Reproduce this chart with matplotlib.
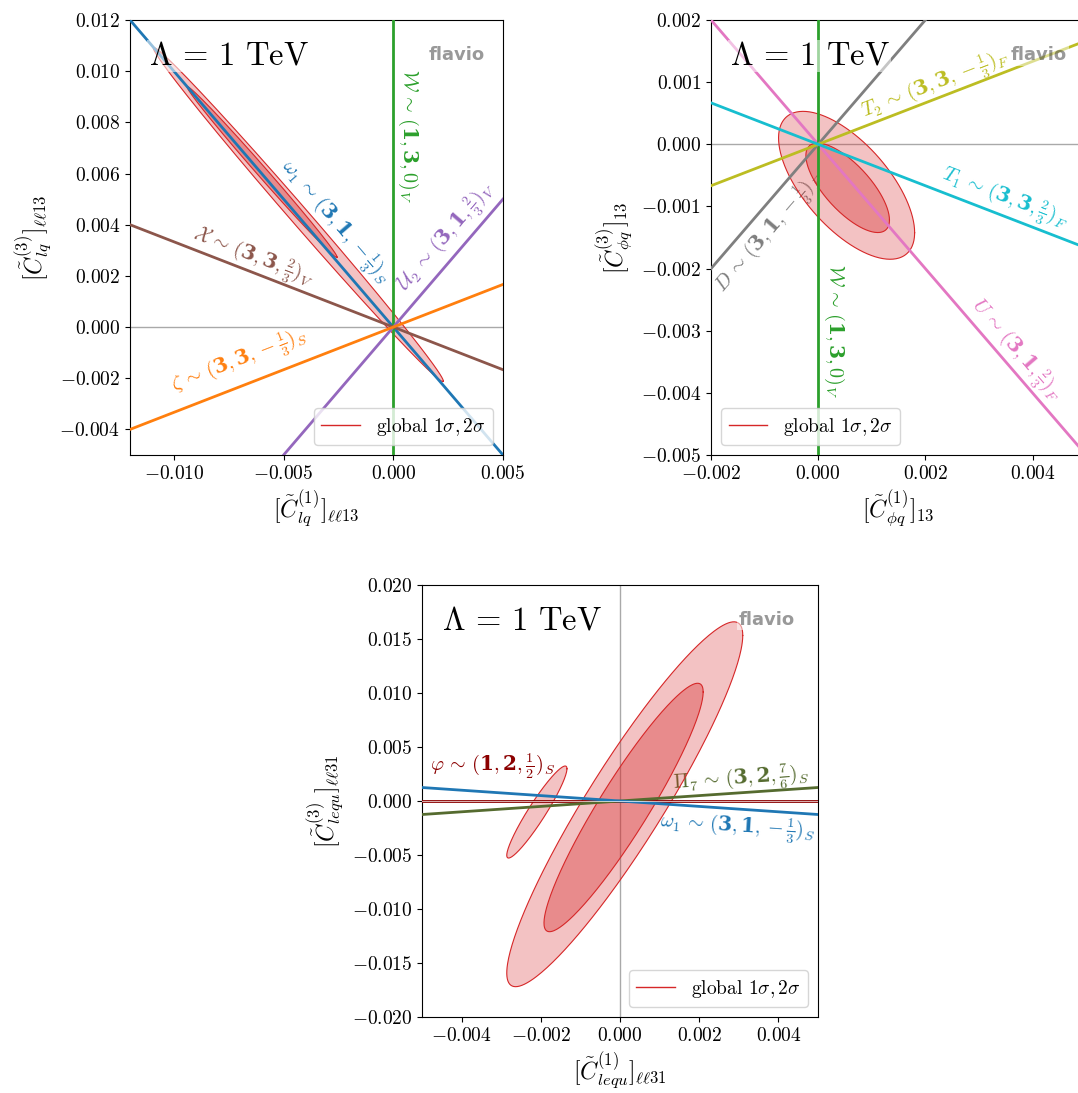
import numpy as np
import matplotlib
matplotlib.use("Agg")
import matplotlib.pyplot as plt
from matplotlib.ticker import FuncFormatter, MultipleLocator
from matplotlib.lines import Line2D

plt.rcParams['font.family'] = 'serif'
plt.rcParams['font.serif'] = ['cmr10', 'DejaVu Serif']
plt.rcParams['mathtext.fontset'] = 'custom'
plt.rcParams['mathtext.rm'] = 'cmr10'
plt.rcParams['mathtext.it'] = 'cmmi10'
plt.rcParams['mathtext.bf'] = 'DejaVu Serif:bold'
plt.rcParams['mathtext.cal'] = 'cmsy10'
plt.rcParams['mathtext.fallback'] = 'cm'
plt.rcParams['axes.unicode_minus'] = False

# ---- panel 1: C_lq(1) vs C_lq(3) ----
p1_names = [r'$\omega_1 \,\sim\, (\mathbf{3},\mathbf{1},-\frac{1}{3})_S$',
            r'$\mathcal{W} \,\sim\, (\mathbf{1},\mathbf{3},0)_V$',
            r'$\mathcal{U}_2 \,\sim\, (\mathbf{3},\mathbf{1},\frac{2}{3})_V$',
            r'$\mathcal{X} \,\sim\, (\mathbf{3},\mathbf{3},\frac{2}{3})_V$',
            r'$\zeta \,\sim\, (\mathbf{3},\mathbf{3},-\frac{1}{3})_S$']
p1_slopes = [-1.0, None, 1.0, -1/3, 1/3]
p1_colors = ['C0', 'C2', 'C4', 'C5', 'C1']
p1_label_x = [-0.00264, 0.00068, 0.00246, -0.00638, -0.00702]
p1_label_y = [0.00409, 0.00745, 0.00354, 0.00272, -0.00131]
# ellipses: centre x, centre y, half width x, half width y, correlation
p1_2sig = (-0.00433, 0.0044, 0.00661, 0.00653, -0.9966)
p1_1sig = (-0.00598, 0.00606, 0.00342, 0.00334, -0.9961)

# ---- panel 2: C_phiq(1) vs C_phiq(3) ----
p2_names = [r'$U \,\sim\, (\mathbf{3},\mathbf{1},\frac{2}{3})_F$',
            r'$\mathcal{W} \,\sim\, (\mathbf{1},\mathbf{3},0)_V$',
            r'$D \,\sim\, (\mathbf{3},\mathbf{1},-\frac{1}{3})_F$',
            r'$T_2 \,\sim\, (\mathbf{3},\mathbf{3},-\frac{1}{3})_F$',
            r'$T_1 \,\sim\, (\mathbf{3},\mathbf{3},\frac{2}{3})_F$']
p2_slopes = [-1.0, None, 1.0, 1/3, -1/3]
p2_colors = ['C6', 'C2', 'C7', 'C8', 'C9']
p2_label_x = [0.00368, 0.0003, -0.0009, 0.00219, 0.00348]
p2_label_y = [-0.00331, -0.00301, -0.00141, 0.00096, -0.00087]
p2_2sig = (0.00053, -0.00066, 0.00127, 0.00119, -0.64)
p2_1sig = (0.00055, -0.0007, 0.00078, 0.00072, -0.72)

# ---- panel 3: C_lequ(1) vs C_lequ(3) ----
p3_names = [r'$\varphi \,\sim\, (\mathbf{1},\mathbf{2},\frac{1}{2})_S$',
            r'$\mathrm{\Pi}_7 \,\sim\, (\mathbf{3},\mathbf{2},\frac{7}{6})_S$',
            r'$\omega_1 \,\sim\, (\mathbf{3},\mathbf{1},-\frac{1}{3})_S$']
p3_slopes = [0.0, 0.25, -0.25]
p3_colors = ['darkred', 'darkolivegreen', 'C0']
p3_label_x = [-0.00322, 0.00306, 0.00296]
p3_label_y = [0.00324, 0.00204, -0.0024]
p3_2sig = [(0.00012, -0.0003, 0.00298, 0.01689, 0.925),
           (-0.0021, -0.00102, 0.00076, 0.00426, 0.94)]
p3_1sig = [(0.00009, -0.0006, 0.00201, 0.0115, 0.93)]


def ellipse_xy(cx, cy, a, b, r, n=300):
    t = np.linspace(0, 2 * np.pi, n)
    x = cx + a * np.cos(t)
    y = cy + b * (r * np.cos(t) + np.sqrt(1 - r ** 2) * np.sin(t))
    return x, y


def screen_angle(ax, slope):
    p0 = ax.transData.transform((0, 0))
    p1 = ax.transData.transform((1e-3, slope * 1e-3))
    return np.degrees(np.arctan2(p1[1] - p0[1], p1[0] - p0[0]))


def draw_panel(ax, names, slopes, colors, lx, ly, sig2, sig1, xlim, ylim,
               xlabel, ylabel, leg_loc, zero_h=True):
    ax.set_xlim(*xlim)
    ax.set_ylim(*ylim)
    if zero_h:
        ax.axhline(0, color='darkgray', lw=1, zorder=1)
    else:
        ax.axvline(0, color='darkgray', lw=1, zorder=1)
    for e in sig2:
        x, y = ellipse_xy(*e)
        ax.fill(x, y, facecolor='C3', alpha=0.28, edgecolor='none', zorder=2)
        ax.plot(x, y, color='C3', lw=0.8, zorder=2.1)
    for e in sig1:
        x, y = ellipse_xy(*e)
        ax.fill(x, y, facecolor='C3', alpha=0.35, edgecolor='none', zorder=2.2)
        ax.plot(x, y, color='C3', lw=0.8, zorder=2.3)
    xs = np.array(xlim)
    for name, s, c, tx, ty in zip(names, slopes, colors, lx, ly):
        if s is None:
            ax.axvline(0, color=c, lw=2, zorder=3)
            rot = -90
        else:
            ax.plot(xs, s * xs, color=c, lw=2, zorder=3)
            rot = screen_angle(ax, s)
        ax.text(tx, ty, name, color=c, fontsize=14.5, rotation=rot,
                rotation_mode='anchor', ha='center', va='center', zorder=1.5)
    fmt = FuncFormatter(lambda v, p: '$%.3f$' % v)
    ax.xaxis.set_major_formatter(fmt)
    ax.yaxis.set_major_formatter(fmt)
    ax.tick_params(labelsize=14)
    ax.set_xlabel(xlabel, fontsize=17)
    ax.set_ylabel(ylabel, fontsize=17)
    ax.text(0.05, 0.95, r'$\Lambda\,=\,1$ TeV', transform=ax.transAxes, fontsize=23.5,
            va='top', ha='left', zorder=4,
            bbox=dict(facecolor='white', alpha=0.55, edgecolor='none', pad=1))
    ax.text(0.8, 0.94, 'flavio', transform=ax.transAxes, fontsize=13,
            family='DejaVu Sans', weight='bold', color='k', alpha=0.4,
            va='top', ha='left', zorder=4,
            bbox=dict(facecolor='white', alpha=0.5, edgecolor='none', pad=1))
    h = Line2D([], [], color='C3', lw=1)
    ax.legend([h], [r'global $1\sigma, 2\sigma$'], loc=leg_loc, fontsize=14)


fig = plt.figure(figsize=(10.78, 10.93), dpi=100)
ax1 = fig.add_axes([0.1206, 0.5837, 0.3460, 0.3980])
ax2 = fig.add_axes([0.6596, 0.5837, 0.3479, 0.3980])
ax3 = fig.add_axes([0.3915, 0.0695, 0.3673, 0.3953])

draw_panel(ax1, p1_names, p1_slopes, p1_colors, p1_label_x, p1_label_y,
           [p1_2sig], [p1_1sig], (-0.012, 0.005), (-0.005, 0.012),
           r'$[\tilde{C}_{lq}^{(1)}]_{\ell\ell13}$', r'$[\tilde{C}_{lq}^{(3)}]_{\ell\ell13}$',
           'lower right')
ax1.yaxis.set_major_locator(MultipleLocator(0.002))
ax1.xaxis.set_major_locator(MultipleLocator(0.005))

draw_panel(ax2, p2_names, p2_slopes, p2_colors, p2_label_x, p2_label_y,
           [p2_2sig], [p2_1sig], (-0.002, 0.005), (-0.005, 0.002),
           r'$[\tilde{C}_{\phi q}^{(1)}]_{13}$', r'$[\tilde{C}_{\phi q}^{(3)}]_{13}$',
           'lower left')
ax2.xaxis.set_major_locator(MultipleLocator(0.002))
ax2.yaxis.set_major_locator(MultipleLocator(0.001))

draw_panel(ax3, p3_names, p3_slopes, p3_colors, p3_label_x, p3_label_y,
           p3_2sig, p3_1sig, (-0.005, 0.005), (-0.02, 0.02),
           r'$[\tilde{C}_{lequ}^{(1)}]_{\ell\ell31}$', r'$[\tilde{C}_{lequ}^{(3)}]_{\ell\ell31}$',
           'lower right', zero_h=False)
ax3.axhline(0, color='white', lw=0.7, alpha=0.7, zorder=3.1)
ax3.xaxis.set_major_locator(MultipleLocator(0.002))
ax3.yaxis.set_major_locator(MultipleLocator(0.005))

fig.savefig('out.png', dpi=100)
